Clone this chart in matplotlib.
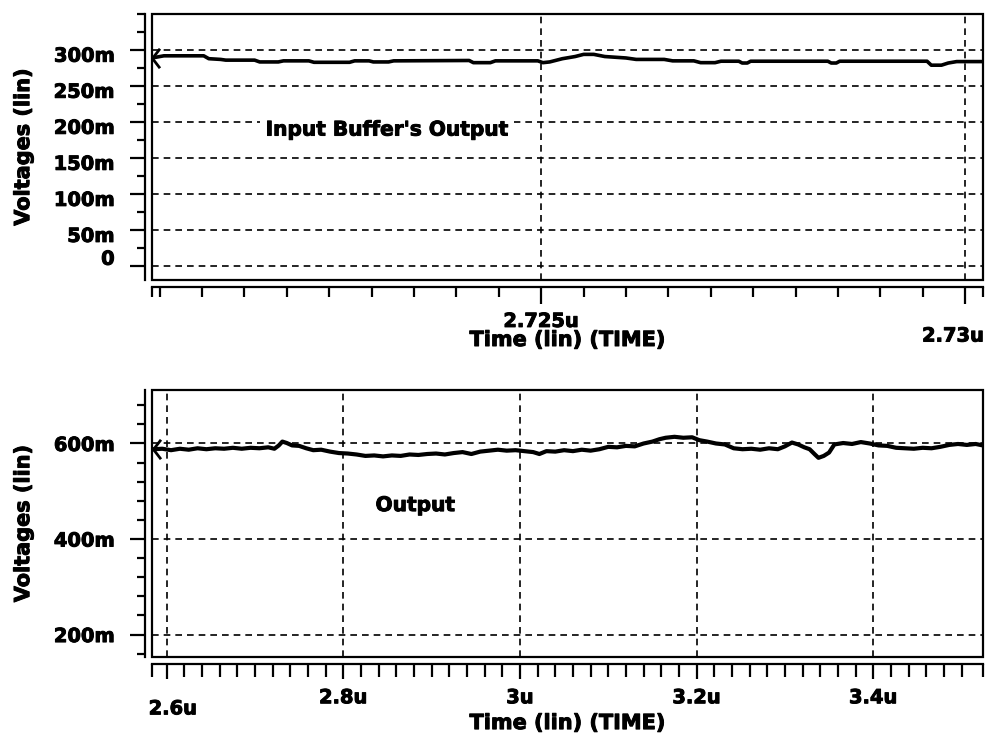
import matplotlib
matplotlib.use('Agg')
import matplotlib.pyplot as plt
import matplotlib.transforms as mtransforms
import matplotlib.patheffects as pe
from matplotlib.patches import Rectangle
from matplotlib.path import Path
from matplotlib.text import Text
import numpy as np

plt.rcParams['font.family'] = ['DejaVu Sans']
plt.rcParams['font.weight'] = 'bold'
plt.rcParams['axes.labelweight'] = 'bold'
plt.rcParams['font.size'] = 14
plt.rcParams['axes.labelsize'] = 15

# ---- top panel: input buffer output (time in us, voltage in mV)
t_in = [2.72041, 2.72055, 2.72102, 2.72108, 2.72122, 2.72128, 2.72162, 2.72168,
        2.72190, 2.72196, 2.72226, 2.72232, 2.72274, 2.72280, 2.72297, 2.72302,
        2.72320, 2.72326, 2.72415, 2.72420, 2.72440, 2.72446, 2.72496, 2.72502,
        2.72510, 2.72525, 2.72540, 2.72550, 2.72562, 2.72575, 2.72600, 2.72612,
        2.72645, 2.72655, 2.72680, 2.72688, 2.72705, 2.72712, 2.72733, 2.72737,
        2.72743, 2.72747, 2.72838, 2.72842, 2.72848, 2.72852, 2.72955, 2.72960,
        2.72972, 2.72980, 2.72990, 2.73021]
v_in = [289, 292, 292, 288, 287, 286, 286, 283.5,
        283.5, 285, 285, 283, 283, 285, 285, 283.5,
        283.5, 285, 285.5, 282.5, 282.5, 285, 285, 282.5,
        283.5, 288, 291, 294, 294, 291, 289, 287,
        287, 285, 285, 282.5, 282.5, 284.5, 284.5, 282,
        282, 284.5, 284.5, 282, 282, 284.5, 284.5, 279,
        279, 282, 284, 284]

# ---- bottom panel: output
t_out = [2.585, 2.595, 2.605, 2.615, 2.625, 2.635, 2.645, 2.655, 2.665, 2.675,
         2.685, 2.695, 2.705, 2.715, 2.722, 2.727, 2.731, 2.736, 2.742, 2.750,
         2.758, 2.766, 2.775, 2.785, 2.795, 2.805, 2.815, 2.825, 2.835, 2.845,
         2.855, 2.865, 2.875, 2.885, 2.895, 2.905, 2.915, 2.925, 2.935, 2.945,
         2.955, 2.965, 2.975, 2.985, 2.995, 3.005, 3.015, 3.022, 3.030, 3.040,
         3.050, 3.060, 3.070, 3.080, 3.090, 3.100, 3.110, 3.120, 3.130, 3.140,
         3.150, 3.158, 3.165, 3.175, 3.185, 3.195, 3.203, 3.212, 3.222, 3.232,
         3.242, 3.252, 3.262, 3.272, 3.282, 3.292, 3.300, 3.308, 3.315, 3.322,
         3.328, 3.334, 3.338, 3.344, 3.350, 3.356, 3.366, 3.376, 3.386, 3.396,
         3.406, 3.416, 3.426, 3.436, 3.446, 3.456, 3.466, 3.476, 3.486, 3.496,
         3.506, 3.516, 3.524]
v_out = [588, 589, 586, 589, 587, 590, 588, 590, 589, 591,
         589, 591, 590, 592, 589, 596, 604, 601, 596, 595,
         590, 586, 587, 583, 580, 579, 577, 574, 575, 573,
         575, 574, 577, 576, 578, 579, 577, 580, 582, 578,
         583, 585, 587, 585, 586, 584, 582, 578, 584, 583,
         586, 584, 587, 585, 588, 593, 592, 595, 594, 600,
         604, 609, 612, 614, 612, 613, 607, 604, 600, 598,
         590, 588, 589, 587, 590, 588, 594, 602, 598, 592,
         588, 577, 570, 574, 581, 598, 601, 599, 603, 600,
         596, 595, 591, 590, 589, 591, 590, 593, 597, 599,
         597, 599, 596]

top_yticks = [0, 50, 100, 150, 200, 250, 300]
top_ylabels = ['0', '50m', '100m', '150m', '200m', '250m', '300m']
top_xticks = [2.725, 2.73]
top_xlabels = ['2.725u', '2.73u']
bot_yticks = [200, 400, 600]
bot_ylabels = ['200m', '400m', '600m']
bot_xticks = [2.6, 2.8, 3.0, 3.2, 3.4]
bot_xlabels = ['2.6u', '2.8u', '3u', '3.2u', '3.4u']

fig = plt.figure(figsize=(9.87, 7.37), dpi=100)
W, H = 987, 737
ax1 = fig.add_axes([152 / W, 1 - 280 / H, 831 / W, 266 / H])
ax2 = fig.add_axes([152 / W, 1 - 657 / H, 831 / W, 267 / H])

chevron = Path([(1.0, 1.3), (0, 0), (1.0, -1.3)], [Path.MOVETO, Path.LINETO, Path.LINETO])
dash = (0, (4, 3))


def shift(label, dx, dy):
    off = mtransforms.ScaledTranslation(dx / 72, dy / 72, fig.dpi_scale_trans)
    label.set_transform(label.get_transform() + off)


def style(ax, xminor, yminor, xmaj_len, xmin_len, xpad):
    ax.spines['top'].set_visible(False)
    ax.spines['right'].set_visible(False)
    ax.spines['left'].set_position(('outward', 5))
    ax.spines['bottom'].set_position(('outward', 5))
    ax.spines['left'].set_linewidth(1.6)
    ax.spines['bottom'].set_linewidth(1.6)
    ax.add_patch(Rectangle((0, 0), 1, 1, transform=ax.transAxes, fill=False,
                           ec='black', lw=1.6, clip_on=False, zorder=5))
    ax.set_xticks(xminor, minor=True)
    ax.set_yticks(yminor, minor=True)
    ax.tick_params(axis='y', which='major', length=11, width=1.6, pad=11)
    ax.tick_params(axis='y', which='minor', length=5.5, width=1.6)
    ax.tick_params(axis='x', which='major', length=xmaj_len, width=1.6, pad=xpad)
    ax.tick_params(axis='x', which='minor', length=xmin_len, width=1.6)
    ax.grid(True, which='major', color='black', lw=1.2, ls=dash)


# ---- top
ax1.plot(t_in, v_in, color='black', lw=2.6, marker=chevron, markevery=[0],
         ms=14, mew=2, fillstyle='none')
ax1.set_xlim(2.72041, 2.73021)
ax1.set_ylim(-19, 348)
ax1.set_yticks(top_yticks, top_ylabels)
ax1.set_xticks(top_xticks, top_xlabels)
style(ax1,
      np.r_[2.72041, np.arange(2.7205, 2.73001, 0.0005), 2.73021],
      np.arange(-0, 351, 25), 12, 7, 6)
ax1.text(2.72175, 189, "Input Buffer's Output", ha='left', va='center', fontsize=14.5,
         bbox=dict(facecolor='white', edgecolor='none', pad=4))
ax1.set_ylabel('Voltages (lin)')
ax1.yaxis.set_label_coords(-0.143, 0.5)
ax1.set_xlabel('Time (lin) (TIME)')
ax1.xaxis.set_label_coords(0.5, -0.188)

for lab in ax1.get_yticklabels():
    shift(lab, 0, -3)
shift(ax1.get_yticklabels()[0], 0, 9.5)
last = ax1.get_xticklabels()[-1]
last.set_horizontalalignment('right')
shift(last, 13.5, -10.5)

# ---- bottom
ax2.plot(t_out, v_out, color='black', lw=3, marker=chevron, markevery=[0],
         ms=14, mew=2, fillstyle='none')
ax2.set_xlim(2.5834, 3.5243)
ax2.set_ylim(153, 712)
ax2.set_yticks(bot_yticks, bot_ylabels)
ax2.set_xticks(bot_xticks, bot_xlabels)
style(ax2,
      np.r_[2.5834, np.arange(2.6, 3.52, 0.02), 3.5243],
      np.arange(160, 700, 40), 10.5, 9.5, 7)
ax2.text(2.8365, 470, 'Output', ha='left', va='center', fontsize=14.5)
ax2.set_ylabel('Voltages (lin)')
ax2.yaxis.set_label_coords(-0.143, 0.5)
ax2.set_xlabel('Time (lin) (TIME)')
ax2.xaxis.set_label_coords(0.5, -0.21)
shift(ax2.get_xticklabels()[0], 4.5, -8)

# heavier glyphs, like the bitmap font of the original
for t in fig.findobj(Text):
    t.set_path_effects([pe.withStroke(linewidth=0.7, foreground='black')])

fig.savefig('out.png', dpi=100)
